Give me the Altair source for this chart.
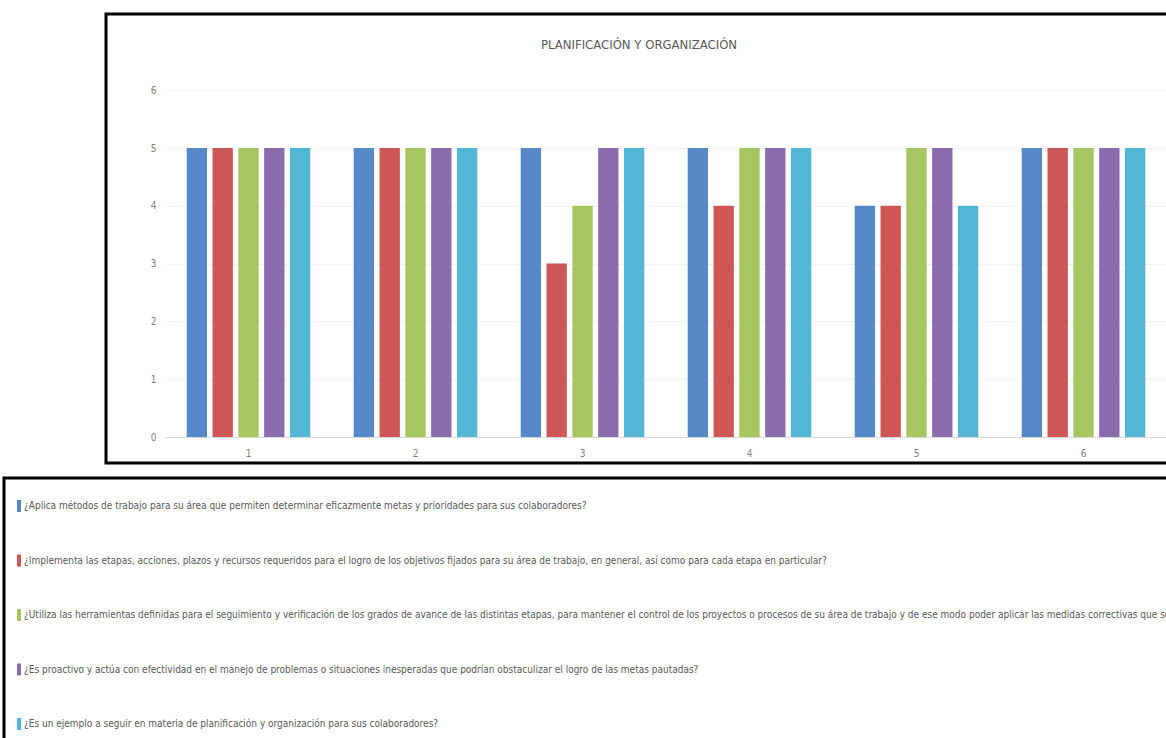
import altair as alt
import pandas as pd

# Categorías del eje X (evaluados) y preguntas de la encuesta
grupos = ["1", "2", "3", "4", "5", "6"]
preguntas = [
    "¿Aplica métodos de trabajo para su área que permiten determinar eficazmente metas y prioridades para sus colaboradores?",
    "¿Implementa las etapas, acciones, plazos y recursos requeridos para el logro de los objetivos fijados para su área de trabajo, en general, así como para cada etapa en particular?",
    "¿Utiliza las herramientas definidas para el seguimiento y verificación de los grados de avance de las distintas etapas, para mantener el control de los proyectos o procesos de su área de trabajo y de ese modo poder aplicar las medidas correctivas que son necesarias?",
    "¿Es proactivo y actúa con efectividad en el manejo de problemas o situaciones inesperadas que podrían obstaculizar el logro de las metas pautadas?",
    "¿Es un ejemplo a seguir en materia de planificación y organización para sus colaboradores?",
]
colores = ["#5689c8", "#cf5656", "#a6c661", "#8a6bac", "#52b7d5"]

# Puntaje de cada pregunta para los evaluados 1..6
p1 = [5, 5, 5, 5, 4, 5]
p2 = [5, 5, 3, 4, 4, 5]
p3 = [5, 5, 4, 5, 5, 5]
p4 = [5, 5, 5, 5, 5, 5]
p5 = [5, 5, 5, 5, 4, 5]
puntajes = [p1, p2, p3, p4, p5]

filas = []
for pregunta, serie in zip(preguntas, puntajes):
    for grupo, valor in zip(grupos, serie):
        filas.append({"grupo": grupo, "pregunta": pregunta, "valor": valor})
df = pd.DataFrame(filas)

FUENTE = "Liberation Sans Narrow, DejaVu Sans Condensed, Roboto Condensed, Arial Narrow, sans-serif"
GRIS = "#595959"

barras = alt.Chart(df).mark_bar().encode(
    x=alt.X(
        "grupo:N",
        sort=grupos,
        scale=alt.Scale(range=[59, 1061], paddingInner=0.26, paddingOuter=0.13),
        axis=alt.Axis(
            title=None,
            labelAngle=0,
            offset=-26,
            ticks=False,
            domainColor="#d9d9d9",
            domainWidth=1,
            labelPadding=11,
            labelFont=FUENTE,
            labelFontSize=10,
            labelColor="#7f7f7f",
        ),
    ),
    xOffset=alt.XOffset(
        "pregunta:N",
        sort=preguntas,
        scale=alt.Scale(paddingInner=0.213, paddingOuter=0),
    ),
    y=alt.Y(
        "valor:Q",
        scale=alt.Scale(domain=[0, 6], range=[423, 76.2], nice=False),
        axis=alt.Axis(
            title=None,
            values=[0, 1, 2, 3, 4, 5, 6],
            offset=-54,
            ticks=False,
            domain=False,
            labelPadding=4,
            labelFont=FUENTE,
            labelFontSize=10,
            labelColor="#7f7f7f",
            grid=True,
            gridColor="#f2f2f2",
            gridWidth=1,
        ),
    ),
    color=alt.Color(
        "pregunta:N",
        sort=preguntas,
        scale=alt.Scale(domain=preguntas, range=colores),
        legend=alt.Legend(
            title=None,
            orient="none",
            legendX=-102,
            legendY=464,
            direction="vertical",
            strokeColor="black",
            fillColor="white",
            padding=10,
            clipHeight=36,
            rowPadding=18.5,
            symbolType="M-1,-3H1V3H-1Z",
            symbolSize=16,
            symbolStrokeWidth=0,
            symbolOpacity=1,
            labelOffset=0,
            labelFont=FUENTE,
            labelFontSize=10,
            labelColor=GRIS,
            labelLimit=4000,
        ),
    ),
)

chart = barras.properties(
    width=1066,
    height=449,
    autosize=alt.AutoSizeParams(type="none"),
    padding={"left": 106, "top": 14, "right": -6, "bottom": 275},
    background="white",
    title=alt.Title(
        "PLANIFICACIÓN Y ORGANIZACIÓN",
        anchor="middle",
        offset=-38,
        font=FUENTE,
        fontSize=13,
        fontWeight="normal",
        color=GRIS,
    ),
).configure_view(stroke="black", strokeWidth=3).configure_legend(strokeWidth=3)

chart.save("out.html", embed_options={"renderer": "svg", "actions": False})
